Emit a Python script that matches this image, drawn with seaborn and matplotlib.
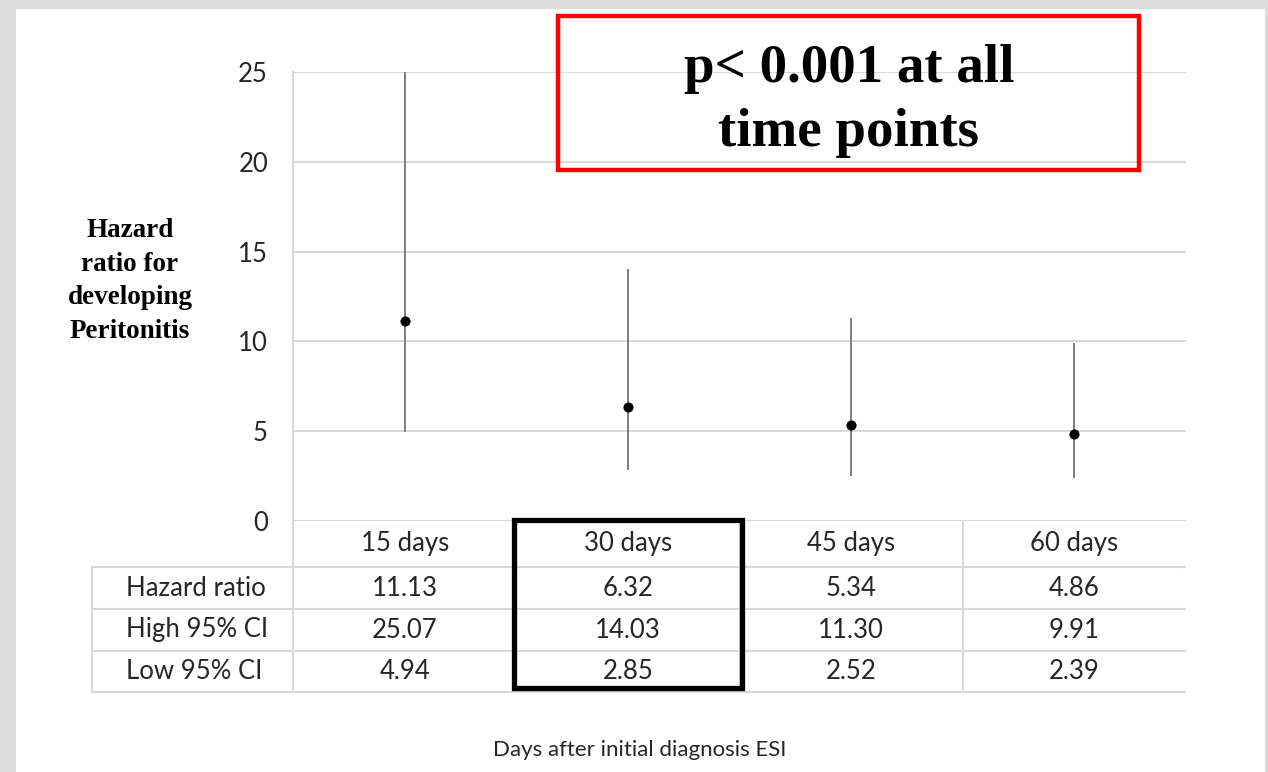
import matplotlib
matplotlib.use("Agg")
import matplotlib.pyplot as plt
import matplotlib.patches as patches
import seaborn as sns
import pandas as pd

# dados
days = ["15 days", "30 days", "45 days", "60 days"]
hazard_ratio = [11.13, 6.32, 5.34, 4.86]
high_ci = [25.07, 14.03, 11.30, 9.91]
low_ci = [4.94, 2.85, 2.52, 2.39]
row_labels = ["Hazard ratio", "High 95% CI", "Low 95% CI"]
y_ticks = [0, 5, 10, 15, 20, 25]

sns.set_style("white")
plt.rcParams["font.family"] = ["Lato", "DejaVu Sans"]

GRID = "#d9d9d9"
TXT = "#262626"

W, H = 1268, 772
fig = plt.figure(figsize=(W / 100, H / 100), dpi=100, facecolor="#dcdcdc")
fig.patches.append(patches.Rectangle((16 / W, 0), (1265 - 16) / W, (H - 9) / H,
                                     transform=fig.transFigure, facecolor="white",
                                     edgecolor="none", zorder=-5))

ax = fig.add_axes([293 / W, (H - 521) / H, (1186 - 293) / W, (521 - 72) / H])
ax.set_facecolor("none")

df = pd.DataFrame({"day": days, "hr": hazard_ratio, "high": high_ci, "low": low_ci})
ax.vlines(range(len(days)), df["low"], df["high"], color="#5a5a5a", lw=1.1, zorder=2)
sns.scatterplot(data=df, x="day", y="hr", ax=ax, color="black", s=45,
                edgecolor="black", zorder=3, legend=False)

ax.set_xlim(-0.5, len(days) - 0.5)
ax.set_ylim(0, 25)
ax.set_yticks(y_ticks)
ax.set_yticklabels([str(t) for t in y_ticks], fontsize=18.5, color=TXT)
ax.tick_params(axis="y", length=0, pad=18)
ax.set_xticks([])
ax.set_xlabel("")
ax.set_ylabel("")
for t in y_ticks:
    ax.axhline(t, color=GRID, lw=1.5, zorder=1)
for s in ["top", "right", "bottom"]:
    ax.spines[s].set_visible(False)
ax.spines["left"].set_color(GRID)
ax.spines["left"].set_linewidth(1.5)

# tabela abaixo do eixo
cell_text = [[row_labels[0]] + [f"{v:.2f}" for v in hazard_ratio],
             [row_labels[1]] + [f"{v:.2f}" for v in high_ci],
             [row_labels[2]] + [f"{v:.2f}" for v in low_ci]]
ax_w = 1186 - 293
ax_h = 521 - 72
col_w = [201] + [223] * 4
row_h = [46, 42, 42, 41]
tbl = ax.table(cellText=cell_text, colLabels=[""] + days,
               colWidths=[c / sum(col_w) for c in col_w], cellLoc="center",
               bbox=[(92 - 293) / ax_w, -(692 - 521) / ax_h, (1186 - 92) / ax_w, (692 - 521) / ax_h])
tbl.auto_set_font_size(False)
for (r, c), cell in tbl.get_celld().items():
    cell.set_height(row_h[r] / 1000)
    cell.set_edgecolor(GRID)
    cell.set_linewidth(1.5)
    cell.get_text().set_fontsize(18.5)
    cell.get_text().set_color(TXT)
    if r == 0:
        cell.visible_edges = "BL" if c > 0 else ""
    elif c == 4:
        cell.visible_edges = "BTL"
    if c == 0 and r > 0:
        cell.get_text().set_ha("left")
        cell.PAD = 34 / 201

# caixa preta em volta da coluna de 30 dias
ax.add_patch(patches.Rectangle(((514 - 293) / ax_w, -(688 - 521) / ax_h),
                               (742 - 514) / ax_w, (688 - 520) / ax_h,
                               transform=ax.transAxes, fill=False, edgecolor="black",
                               lw=3.8, clip_on=False, zorder=5))

# caixa vermelha com o valor de p
fig.patches.append(patches.Rectangle((558 / W, (H - 170) / H), (1139 - 558) / W, 154 / H,
                                     transform=fig.transFigure, fill=False,
                                     edgecolor="#ff0000", lw=3.2, zorder=5))
fig.text(849 / W, (H - 101) / H, "p< 0.001 at all\ntime points", ha="center", va="center",
         fontsize=39.5, fontweight="bold", family="Liberation Serif", linespacing=1.37,
         color="black")

fig.text(130 / W, (H - 281) / H, "Hazard\nratio for\ndeveloping\nPeritonitis", ha="center",
         va="center", fontsize=19.5, fontweight="bold", family="Liberation Serif",
         linespacing=1.45, color="black")

fig.text(640 / W, (H - 750) / H, "Days after initial diagnosis ESI", ha="center",
         va="center", fontsize=16, color=TXT)

fig.savefig("out.png", dpi=100, facecolor=fig.get_facecolor())
